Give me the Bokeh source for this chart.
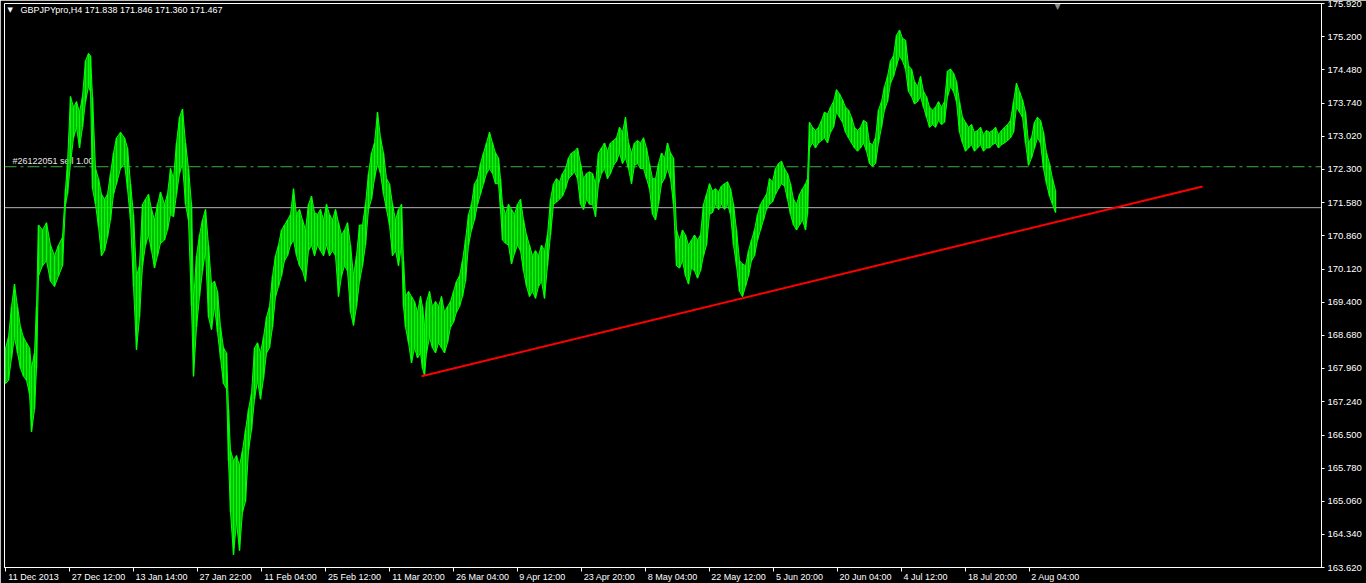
from bokeh.plotting import figure
from bokeh.models import (Range1d, LinearAxis, FixedTicker, PrintfTickFormatter,
                          Span, Label, ColumnDataSource)
from bokeh.embed import file_html
from bokeh.resources import INLINE

# ---------------- data (H4 bars) ----------------
bars = [
    0, 3, 6, 9, 12, 15, 18, 21, 24, 26,
    29, 31, 33, 37, 41, 45, 49, 53, 57, 60,
    62, 65, 68, 71, 74, 77, 80, 83, 85, 87,
    90, 93, 96, 99, 102, 105, 108, 111, 115, 119,
    122, 125, 128, 131, 134, 137, 140, 143, 146, 149,
    152, 155, 159, 162, 165, 168, 171, 174, 177, 180,
    183, 186, 188, 191, 194, 197, 200, 203, 206, 209,
    212, 215, 218, 221, 223, 225, 228, 231, 234, 237,
    240, 243, 246, 249, 252, 255, 258, 261, 264, 267,
    270, 273, 276, 279, 282, 285, 288, 291, 294, 297,
    300, 303, 306, 309, 312, 315, 318, 321, 324, 327,
    330, 333, 336, 339, 342, 345, 348, 351, 354, 357,
    360, 363, 366, 369, 372, 375, 378, 381, 384, 387,
    390, 393, 396, 398, 400, 403, 406, 409, 412, 415,
    417, 419, 421, 424, 427, 430, 433, 436, 439, 442,
    445, 448, 451, 454, 457, 460, 463, 466, 469, 472,
    475, 478, 481, 484, 487, 490, 493, 495, 497, 500,
    503, 506, 509, 512, 515, 518, 521, 524, 527, 530,
    533, 536, 539, 542, 545, 548, 551, 554, 557, 560,
    563, 566, 569, 572, 575, 578, 581, 584, 587, 590,
    593, 596, 599, 602, 605, 608, 611, 614, 617, 620,
    623, 626, 629, 632, 635, 638, 641, 644, 647, 650,
    653, 656, 659, 662, 665, 668, 671, 674, 677, 680,
    683, 686, 689, 692, 695, 698, 701, 704, 707, 710,
    713, 716, 719, 722, 725, 728, 731, 734, 737, 740,
    743, 746, 749, 752, 755, 758, 761, 764, 767, 770,
    773, 776, 779, 782, 785, 788, 791, 794, 797, 800,
    802, 804, 807, 810, 813, 816, 819, 822, 825, 828,
    831, 834, 837, 840, 843, 846, 849, 852, 855, 858,
    861, 864, 867, 870, 873, 876, 879, 882, 885, 888,
    891, 894, 897, 900, 903, 906, 909, 912, 915, 918,
    921, 924, 927, 930, 933, 936, 939, 942, 945, 948,
    951, 954, 957, 960, 963, 966, 969, 972, 975, 978,
    981, 984, 987, 990, 993, 996, 999, 1002, 1005, 1008,
    1011, 1014, 1017, 1020, 1023, 1026, 1029, 1032, 1035, 1038,
    1041, 1044, 1047, 1050,
]

highs = [
    168.41, 168.64, 169.31, 169.80, 169.31, 168.86, 168.64, 168.52, 168.41, 167.96,
    168.30, 169.31, 171.09, 170.98, 171.14, 170.65, 170.42, 170.65, 170.82, 171.88,
    172.43, 173.89, 173.66, 173.78, 173.55, 173.89, 174.67, 174.83, 174.78, 173.89,
    172.32, 172.10, 171.76, 171.65, 171.76, 172.21, 172.66, 172.99, 173.11, 172.99,
    172.77, 171.99, 171.32, 169.98, 170.20, 171.54, 171.65, 171.76, 171.43, 171.20,
    171.54, 171.81, 171.54, 171.76, 172.32, 172.10, 172.88, 173.44, 173.62, 172.88,
    172.32, 171.54, 169.42, 170.42, 170.87, 171.20, 171.43, 170.65, 169.80, 169.86,
    169.64, 168.86, 168.41, 168.30, 167.07, 166.17, 165.95, 166.06, 165.84, 166.17,
    166.62, 167.07, 167.41, 168.41, 168.52, 168.30, 168.64, 169.08, 169.31, 169.98,
    170.42, 170.65, 170.98, 171.09, 171.20, 171.32, 171.88, 171.32, 171.43, 171.20,
    170.98, 171.54, 171.72, 171.36, 171.32, 171.43, 171.20, 171.54, 171.32, 171.20,
    171.43, 171.14, 170.87, 170.98, 171.14, 170.65, 169.98, 170.42, 171.09, 171.09,
    171.54, 172.21, 172.66, 172.88, 173.55, 172.99, 172.66, 172.10, 171.99, 171.54,
    171.20, 171.43, 171.54, 170.31, 169.53, 169.64, 169.53, 169.42, 169.19, 169.53,
    169.31, 168.86, 169.42, 169.64, 169.31, 169.42, 169.31, 169.53, 169.19, 169.31,
    169.42, 169.64, 169.86, 169.98, 170.31, 170.76, 171.32, 171.54, 171.99, 172.10,
    172.43, 172.66, 172.88, 173.11, 172.88, 172.66, 172.55, 172.10, 171.54, 171.32,
    171.54, 171.43, 171.32, 171.54, 171.65, 171.20, 170.87, 170.65, 170.42, 170.53,
    170.42, 170.65, 170.53, 170.87, 171.65, 171.99, 172.10, 172.03, 172.21, 172.32,
    172.55, 172.66, 172.70, 172.77, 172.43, 172.10, 172.21, 172.25, 172.21, 171.99,
    172.66, 172.77, 172.88, 172.70, 172.88, 172.93, 172.99, 173.22, 173.11, 173.44,
    172.88, 172.66, 172.88, 172.93, 172.88, 172.99, 172.77, 172.43, 172.10, 172.10,
    172.43, 172.66, 172.55, 172.88, 172.66, 172.55, 170.98, 170.76, 170.98, 170.87,
    170.65, 170.76, 170.87, 170.76, 170.87, 171.54, 171.76, 171.99, 171.83, 171.88,
    171.81, 171.94, 171.99, 172.03, 171.88, 171.54, 170.98, 170.31, 170.24, 170.20,
    170.53, 170.76, 170.98, 171.32, 171.54, 171.65, 171.76, 172.10, 172.03, 172.32,
    172.43, 172.48, 172.32, 172.21, 171.99, 171.65, 171.54, 171.76, 171.88, 171.99,
    172.10, 173.33, 173.22, 173.15, 173.22, 173.37, 173.55, 173.51, 173.66, 173.78,
    174.04, 173.95, 173.82, 173.66, 173.60, 173.44, 173.22, 173.15, 173.22, 173.37,
    173.33, 172.88, 172.84, 172.99, 173.60, 173.78, 174.11, 174.33, 174.67, 174.78,
    175.23, 175.34, 175.16, 175.12, 174.56, 174.49, 174.22, 174.11, 174.33, 174.00,
    173.89, 173.66, 173.60, 173.66, 173.78, 173.66, 173.78, 174.45, 174.49, 174.40,
    174.22, 173.78, 173.44, 173.33, 173.22, 173.28, 173.11, 173.15, 173.22, 173.06,
    173.15, 173.11, 173.15, 173.22, 173.06, 173.15, 173.22, 173.28, 173.37, 173.78,
    174.18, 174.00, 173.82, 173.55, 172.88, 172.99, 173.33, 173.44, 173.37, 173.11,
    172.66, 172.43, 172.10, 171.846,
]

lows = [
    167.63, 167.70, 168.19, 168.64, 168.30, 167.96, 167.79, 167.70, 167.41, 166.58,
    167.07, 167.96, 169.98, 170.20, 170.31, 169.86, 169.75, 169.98, 170.20, 171.54,
    171.76, 172.43, 172.99, 173.22, 172.77, 173.22, 173.78, 174.11, 174.00, 171.88,
    171.54, 171.05, 170.42, 170.53, 170.82, 171.20, 171.76, 171.99, 172.32, 172.43,
    171.88, 171.20, 169.75, 168.37, 169.08, 170.20, 170.65, 170.87, 170.53, 170.15,
    170.42, 170.69, 170.76, 170.98, 171.32, 171.27, 171.76, 172.21, 172.43, 171.54,
    171.20, 169.31, 167.79, 168.86, 169.53, 170.09, 170.53, 169.08, 168.81, 169.31,
    168.75, 168.19, 167.63, 167.52, 165.95, 164.83, 163.90, 164.61, 163.99, 164.83,
    165.06, 166.17, 166.62, 167.29, 167.70, 167.29, 167.74, 168.30, 168.41, 168.86,
    169.53, 169.75, 169.98, 170.31, 170.42, 170.65, 170.76, 170.42, 170.20, 170.09,
    169.86, 170.53, 170.65, 170.42, 170.65, 170.53, 170.42, 170.65, 170.42, 170.53,
    170.42, 169.53, 169.98, 170.20, 170.09, 169.19, 168.90, 169.31, 169.86, 170.20,
    170.65, 171.43, 171.65, 172.10, 172.43, 172.21, 171.76, 171.43, 171.09, 170.42,
    170.53, 170.20, 170.65, 169.31, 168.86, 168.52, 168.08, 168.41, 168.19, 168.30,
    167.96, 167.81, 168.30, 168.64, 168.41, 168.30, 168.52, 168.41, 168.30, 168.52,
    168.86, 168.97, 169.19, 169.31, 169.53, 169.86, 170.65, 170.98, 171.20, 171.54,
    171.76, 171.99, 172.21, 172.32, 172.21, 171.99, 171.99, 171.43, 170.76, 170.69,
    170.65, 170.24, 170.47, 170.65, 170.53, 170.09, 169.75, 169.53, 169.64, 169.49,
    169.75, 169.86, 169.49, 170.20, 170.87, 171.54, 171.59, 171.65, 171.72, 171.88,
    172.10, 172.17, 172.25, 172.10, 171.54, 171.43, 171.65, 171.54, 171.54, 171.27,
    171.99, 172.21, 172.32, 172.10, 172.21, 172.39, 172.48, 172.66, 172.43, 172.55,
    172.32, 171.99, 172.39, 172.43, 172.32, 172.32, 172.10, 171.88, 171.32, 171.20,
    171.54, 171.99, 172.10, 172.32, 172.10, 171.54, 170.20, 170.15, 170.31, 169.98,
    169.80, 170.15, 170.09, 169.93, 170.09, 170.42, 170.65, 171.32, 171.36, 171.54,
    171.43, 171.54, 171.43, 171.54, 171.32, 170.65, 170.20, 169.64, 169.53, 169.75,
    169.98, 170.31, 170.42, 170.76, 170.98, 171.20, 171.43, 171.54, 171.59, 171.76,
    171.88, 171.99, 171.94, 171.65, 171.32, 171.09, 170.98, 171.09, 171.20, 170.98,
    171.32, 172.77, 172.88, 172.77, 172.88, 172.93, 172.99, 172.88, 173.11, 173.22,
    173.55, 173.44, 173.33, 173.11, 172.99, 172.88, 172.77, 172.70, 172.77, 172.88,
    172.70, 172.43, 172.37, 172.43, 172.88, 173.22, 173.60, 173.78, 174.18, 174.33,
    174.56, 174.78, 174.67, 174.49, 174.00, 173.89, 173.73, 173.78, 173.89, 173.66,
    173.44, 173.22, 173.28, 173.22, 173.37, 173.28, 173.33, 173.89, 174.11, 174.00,
    173.78, 173.11, 172.88, 172.70, 172.77, 172.84, 172.70, 172.77, 172.84, 172.70,
    172.77, 172.77, 172.84, 172.88, 172.77, 172.84, 172.88, 172.93, 172.99, 173.11,
    173.66, 173.55, 173.44, 172.88, 172.39, 172.55, 172.77, 172.99, 172.88, 172.32,
    171.99, 171.72, 171.54, 171.360,
]

y_tick_values = [175.92, 175.20, 174.48, 173.74, 173.02, 172.30, 171.58, 170.86,
                 170.12, 169.40, 168.68, 167.96, 167.24, 166.50, 165.78, 165.06,
                 164.34, 163.62]

x_tick_bars = [0, 64, 128, 192, 256, 320, 384, 448, 512, 576, 640, 704, 768,
               832, 896, 960, 1024]
x_tick_labels = ["11 Dec 2013", "27 Dec 12:00", "13 Jan 14:00", "27 Jan 22:00",
                 "11 Feb 04:00", "25 Feb 12:00", "11 Mar 20:00", "26 Mar 04:00",
                 "9 Apr 12:00", "23 Apr 20:00", "8 May 04:00", "22 May 12:00",
                 "5 Jun 20:00", "20 Jun 04:00", "4 Jul 12:00", "18 Jul 20:00",
                 "2 Aug 04:00"]

trend_bars = [416, 1197]
trend_prices = [167.79, 171.93]

order_price = 172.36
bid_price = 171.467
header_text = "GBPJPYpro,H4  171.838 171.846 171.360 171.467"
order_text = "#26122051 sell 1.00"

# ---------------- styling helpers ----------------
FONT = "Liberation Sans"
X_FONT_PX = 9
CHAR_W = {" ": 0.278, ":": 0.278, ".": 0.278, "D": 0.722, "e": 0.556, "c": 0.5,
          "J": 0.5, "a": 0.556, "n": 0.556, "F": 0.611, "b": 0.556, "M": 0.833,
          "r": 0.333, "A": 0.667, "p": 0.556, "y": 0.5, "u": 0.556, "l": 0.222,
          "g": 0.556}


def text_px(s, size):
    return sum(CHAR_W.get(ch, 0.556) for ch in s) * size


# one bar == one pixel; labels are left-aligned just right of their tick mark
label_centers = [int(round(b + 2 + text_px(t, X_FONT_PX) / 2))
                 for b, t in zip(x_tick_bars, x_tick_labels)]

p = figure(frame_width=1317, frame_height=564,
           x_range=Range1d(-1, 1316), y_range=Range1d(163.62, 175.92),
           output_backend="svg", toolbar_location=None,
           x_axis_location=None, y_axis_location=None,
           background_fill_color="black", border_fill_color="black",
           outline_line_color="white", outline_line_width=1,
           min_border_left=4, min_border_right=45, min_border_top=3,
           min_border_bottom=16)
p.xgrid.grid_line_color = None
p.ygrid.grid_line_color = None

yax = LinearAxis(ticker=FixedTicker(ticks=y_tick_values),
                 formatter=PrintfTickFormatter(format="%.3f"))
yax.axis_line_color = "white"
yax.major_tick_line_color = "white"
yax.major_tick_in = 0
yax.major_tick_out = 3
yax.minor_tick_line_color = None
yax.major_label_text_color = "white"
yax.major_label_text_font = FONT
yax.major_label_text_font_size = "9.5px"
yax.major_label_standoff = 3
p.add_layout(yax, "right")

xax = LinearAxis(ticker=FixedTicker(ticks=label_centers, minor_ticks=x_tick_bars),
                 major_label_overrides={c: t for c, t in zip(label_centers, x_tick_labels)})
xax.axis_line_color = "white"
xax.major_tick_line_color = None
xax.major_tick_in = 0
xax.major_tick_out = 0
xax.minor_tick_line_color = "white"
xax.minor_tick_in = 0
xax.minor_tick_out = 4
xax.major_label_text_color = "white"
xax.major_label_text_font = FONT
xax.major_label_text_font_size = f"{X_FONT_PX}px"
xax.major_label_standoff = 0
p.add_layout(xax, "below")

# horizontal order / bid lines (behind the price)
p.add_layout(Span(location=order_price, dimension="width", line_color="#3fae3f",
                  line_width=1, line_dash="12 4 3 4", level="underlay"))
p.add_layout(Span(location=bid_price, dimension="width", line_color="#b4b4b4",
                  line_width=1, level="underlay"))
p.add_layout(Label(x=7, y=order_price, y_offset=1, text=order_text,
                   text_color="#e6e6e6", text_font=FONT, text_font_size="9px",
                   text_baseline="bottom", level="underlay"))

# price bars: a dimmer high-low band, bright vertical strokes and envelopes
src = ColumnDataSource(dict(bar=bars, high=highs, low=lows))
p.varea(x="bar", y1="low", y2="high", source=src, fill_color="#00e000",
        fill_alpha=0.75)
p.segment(x0="bar", y0="low", x1="bar", y1="high", source=src,
          line_color="#00ff00", line_width=1.5)
p.line(x="bar", y="high", source=src, line_color="#00ff00", line_width=1)
p.line(x="bar", y="low", source=src, line_color="#00ff00", line_width=1)

p.line(trend_bars, trend_prices, line_color="#ff0000", line_width=2)

p.add_layout(Label(x=2, y=175.77, text="▼", text_color="white",
                   text_font="DejaVu Sans", text_font_size="7px",
                   text_baseline="middle"))
p.add_layout(Label(x=15, y=175.77, text=header_text, text_color="white",
                   text_font=FONT, text_font_size="9px", text_baseline="middle"))
p.add_layout(Label(x=1052, y=175.86, text="▼", text_color="#8c8c8c",
                   text_font="DejaVu Sans", text_font_size="8px",
                   text_align="center", text_baseline="middle"))
p.add_layout(Label(x=1317, y=bid_price, text=f"{bid_price:.3f}", text_color="black",
                   text_font=FONT, text_font_size="9.5px", text_baseline="middle",
                   background_fill_color="white", padding=2))

open("out.html", "w").write(file_html(p, INLINE))
